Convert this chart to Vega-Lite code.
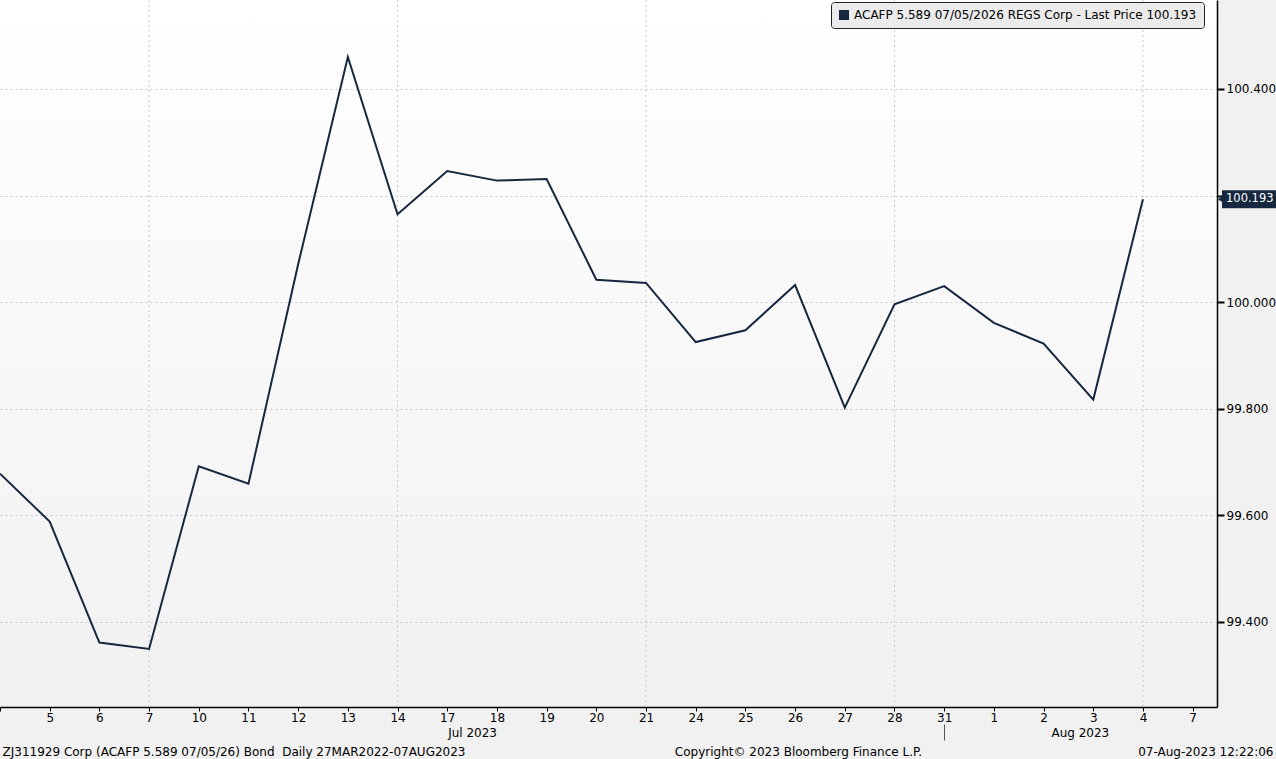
{
  "$schema": "https://vega.github.io/schema/vega-lite/v6.json",
  "width": 1217,
  "height": 707,
  "autosize": {"type": "none"},
  "padding": {"left": 0, "top": 0, "right": 59, "bottom": 52},
  "background": "#f1f1f1",
  "config": {
    "font": "DejaVu Sans",
    "view": {
      "stroke": null,
      "fill": {"gradient": "linear", "x1": 0, "y1": 0, "x2": 0, "y2": 1, "stops": [{"offset": 0, "color": "#ffffff"}, {"offset": 1, "color": "#f1f1f1"}]}
    },
    "axis": {"labelFont": "DejaVu Sans", "titleFont": "DejaVu Sans", "labelFontSize": 12, "labelColor": "#000000", "titleFontSize": 12, "titleFontWeight": "normal", "titleColor": "#000000"}
  },
  "data": {
    "values": [
      {"i": 0, "date": "2023-07-04", "value": 99.678, "series": "ACAFP 5.589 07/05/2026 REGS Corp - Last Price 100.193"},
      {"i": 1, "date": "2023-07-05", "value": 99.588, "series": "ACAFP 5.589 07/05/2026 REGS Corp - Last Price 100.193"},
      {"i": 2, "date": "2023-07-06", "value": 99.361, "series": "ACAFP 5.589 07/05/2026 REGS Corp - Last Price 100.193"},
      {"i": 3, "date": "2023-07-07", "value": 99.349, "series": "ACAFP 5.589 07/05/2026 REGS Corp - Last Price 100.193"},
      {"i": 4, "date": "2023-07-10", "value": 99.692, "series": "ACAFP 5.589 07/05/2026 REGS Corp - Last Price 100.193"},
      {"i": 5, "date": "2023-07-11", "value": 99.659, "series": "ACAFP 5.589 07/05/2026 REGS Corp - Last Price 100.193"},
      {"i": 6, "date": "2023-07-12", "value": 100.071, "series": "ACAFP 5.589 07/05/2026 REGS Corp - Last Price 100.193"},
      {"i": 7, "date": "2023-07-13", "value": 100.460, "series": "ACAFP 5.589 07/05/2026 REGS Corp - Last Price 100.193"},
      {"i": 8, "date": "2023-07-14", "value": 100.165, "series": "ACAFP 5.589 07/05/2026 REGS Corp - Last Price 100.193"},
      {"i": 9, "date": "2023-07-17", "value": 100.246, "series": "ACAFP 5.589 07/05/2026 REGS Corp - Last Price 100.193"},
      {"i": 10, "date": "2023-07-18", "value": 100.228, "series": "ACAFP 5.589 07/05/2026 REGS Corp - Last Price 100.193"},
      {"i": 11, "date": "2023-07-19", "value": 100.231, "series": "ACAFP 5.589 07/05/2026 REGS Corp - Last Price 100.193"},
      {"i": 12, "date": "2023-07-20", "value": 100.042, "series": "ACAFP 5.589 07/05/2026 REGS Corp - Last Price 100.193"},
      {"i": 13, "date": "2023-07-21", "value": 100.036, "series": "ACAFP 5.589 07/05/2026 REGS Corp - Last Price 100.193"},
      {"i": 14, "date": "2023-07-24", "value": 99.925, "series": "ACAFP 5.589 07/05/2026 REGS Corp - Last Price 100.193"},
      {"i": 15, "date": "2023-07-25", "value": 99.947, "series": "ACAFP 5.589 07/05/2026 REGS Corp - Last Price 100.193"},
      {"i": 16, "date": "2023-07-26", "value": 100.032, "series": "ACAFP 5.589 07/05/2026 REGS Corp - Last Price 100.193"},
      {"i": 17, "date": "2023-07-27", "value": 99.802, "series": "ACAFP 5.589 07/05/2026 REGS Corp - Last Price 100.193"},
      {"i": 18, "date": "2023-07-28", "value": 99.996, "series": "ACAFP 5.589 07/05/2026 REGS Corp - Last Price 100.193"},
      {"i": 19, "date": "2023-07-31", "value": 100.030, "series": "ACAFP 5.589 07/05/2026 REGS Corp - Last Price 100.193"},
      {"i": 20, "date": "2023-08-01", "value": 99.961, "series": "ACAFP 5.589 07/05/2026 REGS Corp - Last Price 100.193"},
      {"i": 21, "date": "2023-08-02", "value": 99.922, "series": "ACAFP 5.589 07/05/2026 REGS Corp - Last Price 100.193"},
      {"i": 22, "date": "2023-08-03", "value": 99.817, "series": "ACAFP 5.589 07/05/2026 REGS Corp - Last Price 100.193"},
      {"i": 23, "date": "2023-08-04", "value": 100.193, "series": "ACAFP 5.589 07/05/2026 REGS Corp - Last Price 100.193"}
    ]
  },
  "layer": [
    {
      "data": {"values": [{"friday": 3}, {"friday": 8}, {"friday": 13}, {"friday": 18}, {"friday": 23}]},
      "mark": {"type": "rule", "color": "#c5c9d3", "strokeDash": [2, 3], "strokeWidth": 1},
      "encoding": {
        "x": {"field": "friday", "type": "quantitative", "scale": {"domain": [0, 24.49], "nice": false, "zero": false}, "axis": null}
      }
    },
    {
      "mark": {"type": "line", "strokeWidth": 2, "clip": true},
      "encoding": {
        "x": {
          "field": "i", "type": "quantitative",
          "scale": {"domain": [0, 24.49], "nice": false, "zero": false},
          "axis": {
            "values": [0, 1, 2, 3, 4, 5, 6, 7, 8, 9, 10, 11, 12, 13, 14, 15, 16, 17, 18, 19, 20, 21, 22, 23, 24],
            "labelExpr": "datum.value == 0 ? '' : ['4','5','6','7','10','11','12','13','14','17','18','19','20','21','24','25','26','27','28','31','1','2','3','4','7'][datum.value]",
            "labelFlush": false,
            "labelOverlap": false,
            "labelPadding": 1,
            "tickSize": 4,
            "tickColor": "#000000",
            "domainColor": "#000000",
            "domainWidth": 1.5,
            "grid": false,
            "title": "ZJ311929 Corp (ACAFP 5.589 07/05/26) Bond\u00a0\u00a0Daily 27MAR2022-07AUG2023",
            "titleX": 2,
            "titleY": 44,
            "titleAlign": "left",
            "titleAnchor": "start",
            "titleBaseline": "middle"
          }
        },
        "y": {
          "field": "value", "type": "quantitative",
          "scale": {"domain": [99.24, 100.567], "nice": false, "zero": false},
          "axis": {
            "orient": "right",
            "values": [99.4, 99.6, 99.8, 100.0, 100.2, 100.4],
            "format": ".3f",
            "labelExpr": "datum.value == 100.2 ? '' : datum.label",
            "tickSize": 7,
            "tickWidth": 2,
            "tickColor": "#000000",
            "labelPadding": 2,
            "domainColor": "#000000",
            "domainWidth": 1.5,
            "grid": true,
            "gridColor": "#c5c9d3",
            "gridDash": [2, 3],
            "title": "07-Aug-2023 12:22:06",
            "titleAngle": 0,
            "titleX": 56,
            "titleY": 751,
            "titleAlign": "right",
            "titleBaseline": "middle"
          }
        },
        "color": {
          "field": "series", "type": "nominal",
          "scale": {"range": ["#16283f"]},
          "legend": {
            "orient": "none",
            "legendX": 831,
            "legendY": 2,
            "title": null,
            "symbolType": "square",
            "symbolSize": 100,
            "symbolFillColor": "#16283f",
            "symbolStrokeColor": "#16283f",
            "symbolStrokeWidth": 0,
            "labelFont": "DejaVu Sans",
            "labelFontSize": 12,
            "labelColor": "#000000",
            "labelLimit": 500,
            "fillColor": "#ebebeb",
            "strokeColor": "#222222",
            "cornerRadius": 3,
            "padding": 7
          }
        }
      }
    },
    {
      "transform": [{"filter": "datum.i == 23"}],
      "mark": {"type": "rect", "color": "#16283f", "xOffset": 5, "x2Offset": 59, "yOffset": -9, "y2Offset": 9, "clip": false},
      "encoding": {
        "x": {"value": "width"},
        "x2": {"value": "width"},
        "y": {"field": "value", "type": "quantitative"},
        "y2": {"field": "value"}
      }
    },
    {
      "transform": [{"filter": "datum.i == 23"}],
      "mark": {"type": "point", "shape": "triangle-left", "filled": true, "size": 60, "opacity": 1, "color": "#16283f", "xOffset": 4, "clip": false},
      "encoding": {
        "x": {"value": "width"},
        "y": {"field": "value", "type": "quantitative"}
      }
    },
    {
      "transform": [{"filter": "datum.i == 23"}],
      "mark": {"type": "text", "color": "#ffffff", "align": "left", "baseline": "middle", "dx": 9, "fontSize": 11.5, "font": "DejaVu Sans", "clip": false},
      "encoding": {
        "x": {"value": "width"},
        "y": {"field": "value", "type": "quantitative"},
        "text": {"field": "value", "type": "quantitative", "format": ".3f"}
      }
    },
    {
      "data": {"values": [{"pos": 9.5, "month": "Jul 2023"}, {"pos": 19, "month": ""}, {"pos": 21.73, "month": "Aug 2023"}]},
      "mark": {"type": "point", "opacity": 0},
      "encoding": {
        "x": {
          "field": "pos", "type": "quantitative",
          "scale": {"domain": [0, 24.49], "nice": false, "zero": false},
          "axis": {
            "orient": "bottom",
            "offset": 17,
            "values": [9.5, 19, 21.73],
            "labelExpr": "datum.value < 10 ? 'Jul 2023' : datum.value > 20 ? 'Aug 2023' : ''",
            "labelFlush": false,
            "labelOverlap": false,
            "domain": false,
            "grid": false,
            "tickSize": 16,
            "tickColor": {"condition": {"test": "datum.value == 19", "value": "#555555"}, "value": "transparent"},
            "labelPadding": -13,
            "title": "Copyright\u00a9 2023 Bloomberg Finance L.P.",
            "titleX": 798,
            "titleY": 27,
            "titleAlign": "center",
            "titleBaseline": "middle"
          }
        }
      }
    }
  ],
  "resolve": {"scale": {"x": "independent"}}
}
